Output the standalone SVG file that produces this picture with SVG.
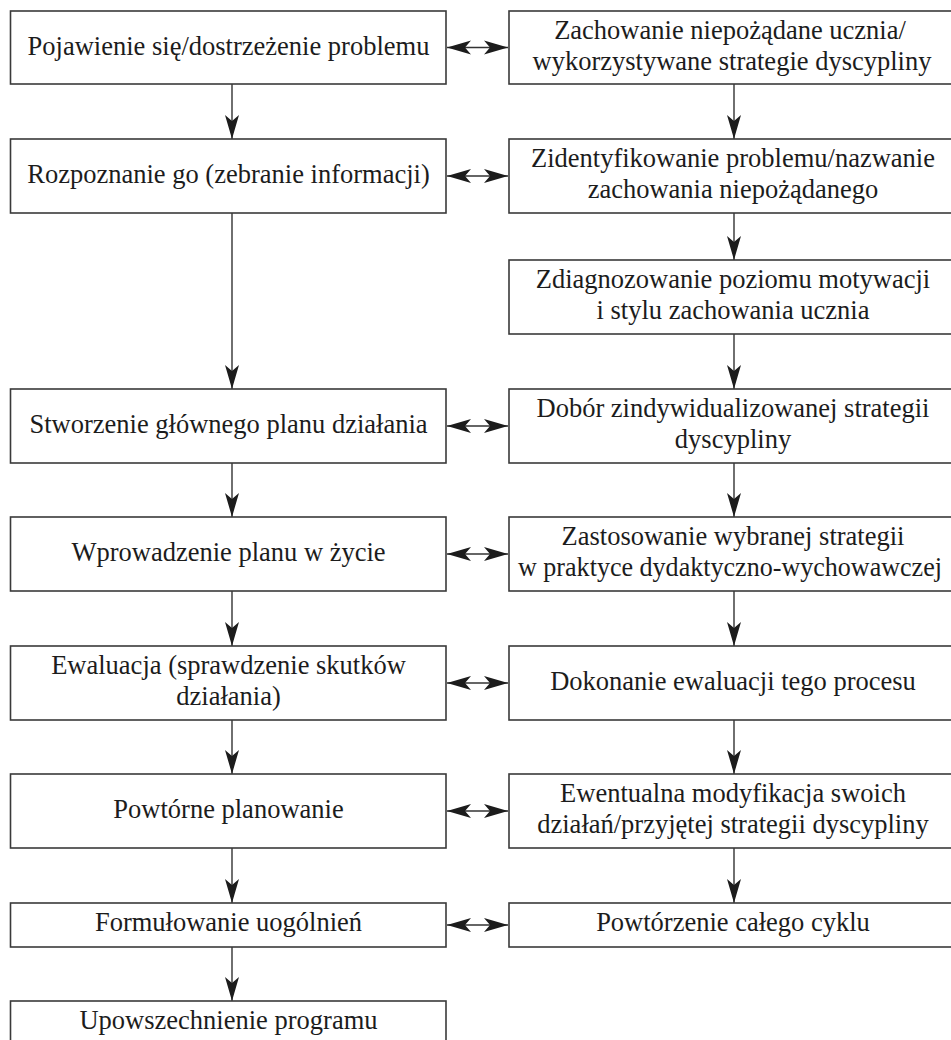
<svg xmlns="http://www.w3.org/2000/svg" width="951" height="1040" viewBox="0 0 951 1040">
<style>
.box{fill:#fff;stroke:#3a3a3a;stroke-width:1.6}
.t{font-family:"Liberation Serif","Times New Roman",serif;font-size:26.5px;fill:#1c1c1c;text-anchor:middle}
.c{stroke:#333;stroke-width:1.4;fill:none}
</style>
<defs>
<marker id="ah" viewBox="-26 -8 28 16" refX="0" refY="0" markerWidth="28" markerHeight="16" markerUnits="userSpaceOnUse" orient="auto-start-reverse">
<path d="M0,0 L-24,-7 L-18,0 L-24,7 Z" fill="#1c1c1c"/>
</marker>
</defs>
<rect width="951" height="1040" fill="#fff"/>
<g id="connectors">
<line class="c" x1="232" y1="84" x2="232" y2="139" marker-end="url(#ah)"/>
<line class="c" x1="232" y1="213" x2="232" y2="389" marker-end="url(#ah)"/>
<line class="c" x1="232" y1="463" x2="232" y2="517" marker-end="url(#ah)"/>
<line class="c" x1="232" y1="591" x2="232" y2="646" marker-end="url(#ah)"/>
<line class="c" x1="232" y1="720" x2="232" y2="774" marker-end="url(#ah)"/>
<line class="c" x1="232" y1="848" x2="232" y2="903" marker-end="url(#ah)"/>
<line class="c" x1="232" y1="947" x2="232" y2="1001" marker-end="url(#ah)"/>
<line class="c" x1="734" y1="84" x2="734" y2="139" marker-end="url(#ah)"/>
<line class="c" x1="734" y1="213" x2="734" y2="260" marker-end="url(#ah)"/>
<line class="c" x1="734" y1="334" x2="734" y2="389" marker-end="url(#ah)"/>
<line class="c" x1="734" y1="463" x2="734" y2="517" marker-end="url(#ah)"/>
<line class="c" x1="734" y1="591" x2="734" y2="646" marker-end="url(#ah)"/>
<line class="c" x1="734" y1="720" x2="734" y2="774" marker-end="url(#ah)"/>
<line class="c" x1="734" y1="848" x2="734" y2="903" marker-end="url(#ah)"/>
<line class="c" x1="447" y1="47.5" x2="508" y2="47.5" marker-start="url(#ah)" marker-end="url(#ah)"/>
<line class="c" x1="447" y1="176" x2="508" y2="176" marker-start="url(#ah)" marker-end="url(#ah)"/>
<line class="c" x1="447" y1="426" x2="508" y2="426" marker-start="url(#ah)" marker-end="url(#ah)"/>
<line class="c" x1="447" y1="554" x2="508" y2="554" marker-start="url(#ah)" marker-end="url(#ah)"/>
<line class="c" x1="447" y1="683" x2="508" y2="683" marker-start="url(#ah)" marker-end="url(#ah)"/>
<line class="c" x1="447" y1="811" x2="508" y2="811" marker-start="url(#ah)" marker-end="url(#ah)"/>
<line class="c" x1="447" y1="925" x2="508" y2="925" marker-start="url(#ah)" marker-end="url(#ah)"/>
</g>
<g id="l1"><rect class="box" x="10.5" y="11" width="435.5" height="73"/><text class="t" x="228.5" y="54.5">Pojawienie się/dostrzeżenie problemu</text></g>
<g id="l2"><rect class="box" x="10.5" y="139" width="435.5" height="74"/><text class="t" x="228.5" y="183">Rozpoznanie go (zebranie informacji)</text></g>
<g id="l3"><rect class="box" x="10.5" y="389" width="435.5" height="74"/><text class="t" x="228.5" y="433">Stworzenie głównego planu działania</text></g>
<g id="l4"><rect class="box" x="10.5" y="517" width="435.5" height="74"/><text class="t" x="228.5" y="561">Wprowadzenie planu w życie</text></g>
<g id="l5"><rect class="box" x="10.5" y="646" width="435.5" height="74"/><text class="t" x="228.5" y="674">Ewaluacja (sprawdzenie skutków</text><text class="t" x="228.5" y="705">działania)</text></g>
<g id="l6"><rect class="box" x="10.5" y="774" width="435.5" height="74"/><text class="t" x="228.5" y="818">Powtórne planowanie</text></g>
<g id="l7"><rect class="box" x="10.5" y="903" width="435.5" height="44"/><text class="t" x="228.5" y="931">Formułowanie uogólnień</text></g>
<g id="l8"><rect class="box" x="10.5" y="1001" width="435.5" height="60"/><text class="t" x="228.5" y="1029">Upowszechnienie programu</text></g>
<g id="r1"><rect class="box" x="509" y="11" width="460" height="73"/><text class="t" x="730" y="38.5">Zachowanie niepożądane ucznia/</text><text class="t" x="732" y="69.5">wykorzystywane strategie dyscypliny</text></g>
<g id="r2"><rect class="box" x="509" y="139" width="460" height="74"/><text class="t" x="733" y="167">Zidentyfikowanie problemu/nazwanie</text><text class="t" x="733" y="198">zachowania niepożądanego</text></g>
<g id="r3"><rect class="box" x="509" y="260" width="460" height="74"/><text class="t" x="733" y="288">Zdiagnozowanie poziomu motywacji</text><text class="t" x="733" y="319">i stylu zachowania ucznia</text></g>
<g id="r4"><rect class="box" x="509" y="389" width="460" height="74"/><text class="t" x="733" y="417">Dobór zindywidualizowanej strategii</text><text class="t" x="733" y="448">dyscypliny</text></g>
<g id="r5"><rect class="box" x="509" y="517" width="460" height="74"/><text class="t" x="733" y="545">Zastosowanie wybranej strategii</text><text class="t" x="730" y="576" textLength="424" lengthAdjust="spacingAndGlyphs">w praktyce dydaktyczno-wychowawczej</text></g>
<g id="r6"><rect class="box" x="509" y="646" width="460" height="74"/><text class="t" x="733" y="690">Dokonanie ewaluacji tego procesu</text></g>
<g id="r7"><rect class="box" x="509" y="774" width="460" height="74"/><text class="t" x="733" y="802">Ewentualna modyfikacja swoich</text><text class="t" x="733" y="833">działań/przyjętej strategii dyscypliny</text></g>
<g id="r8"><rect class="box" x="509" y="903" width="460" height="44"/><text class="t" x="733" y="931">Powtórzenie całego cyklu</text></g>
</svg>
